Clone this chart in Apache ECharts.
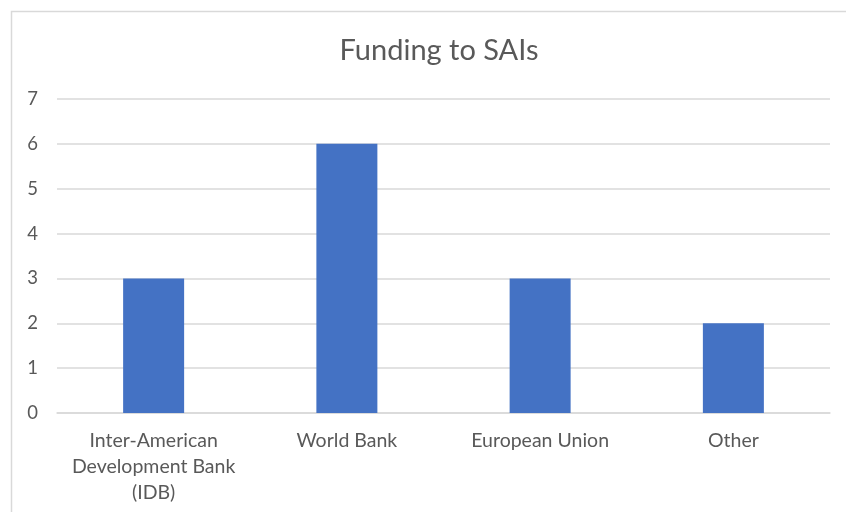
<!DOCTYPE html>
<html><head><meta charset="utf-8">
<script src="https://cdn.jsdelivr.net/npm/echarts@6/dist/echarts.min.js"></script>
<style>html,body{margin:0;padding:0;background:#fff}#c{width:846px;height:512px}</style>
</head><body><div id="c"></div>
<script>
const titleText = 'Funding to SAIs';
const categories = ['Inter-American\nDevelopment Bank\n(IDB)', 'World Bank', 'European Union', 'Other'];
const values = [3, 6, 3, 2];
const yTicks = [0, 1, 2, 3, 4, 5, 6, 7];

const chart = echarts.init(document.getElementById('c'), null, {renderer: 'canvas'});
const font = 'Lato, "Open Sans", sans-serif';
chart.setOption({
  animation: false,
  backgroundColor: '#fff',
  graphic: [{
    type: 'rect', silent: true, z: -1,
    shape: {x: 11.5, y: 11.5, width: 900, height: 600},
    style: {fill: '#fff', stroke: '#d9d9d9', lineWidth: 1.5}
  }],
  title: {
    text: titleText, left: 434, top: 31, textAlign: 'center',
    textStyle: {fontFamily: font, fontSize: 29, fontWeight: 'normal', color: '#595959'}
  },
  grid: {left: 57, right: 16, top: 99, bottom: 99, containLabel: false},
  xAxis: {
    type: 'category', data: categories,
    axisLine: {show: true, lineStyle: {color: '#d9d9d9', width: 1.5}},
    axisTick: {show: false},
    axisLabel: {fontFamily: font, fontSize: 19.5, color: '#595959', margin: 15, lineHeight: 26, interval: 0}
  },
  yAxis: {
    type: 'value', min: yTicks[0], max: yTicks[yTicks.length - 1], interval: 1,
    axisLine: {show: false}, axisTick: {show: false},
    splitLine: {lineStyle: {color: '#d9d9d9', width: 1.5}},
    axisLabel: {fontFamily: font, fontSize: 18.5, color: '#595959', margin: 19, align: 'right'}
  },
  series: [{
    type: 'bar', data: values, barWidth: 61,
    itemStyle: {color: '#4472C4'}
  }]
});
</script></body></html>
